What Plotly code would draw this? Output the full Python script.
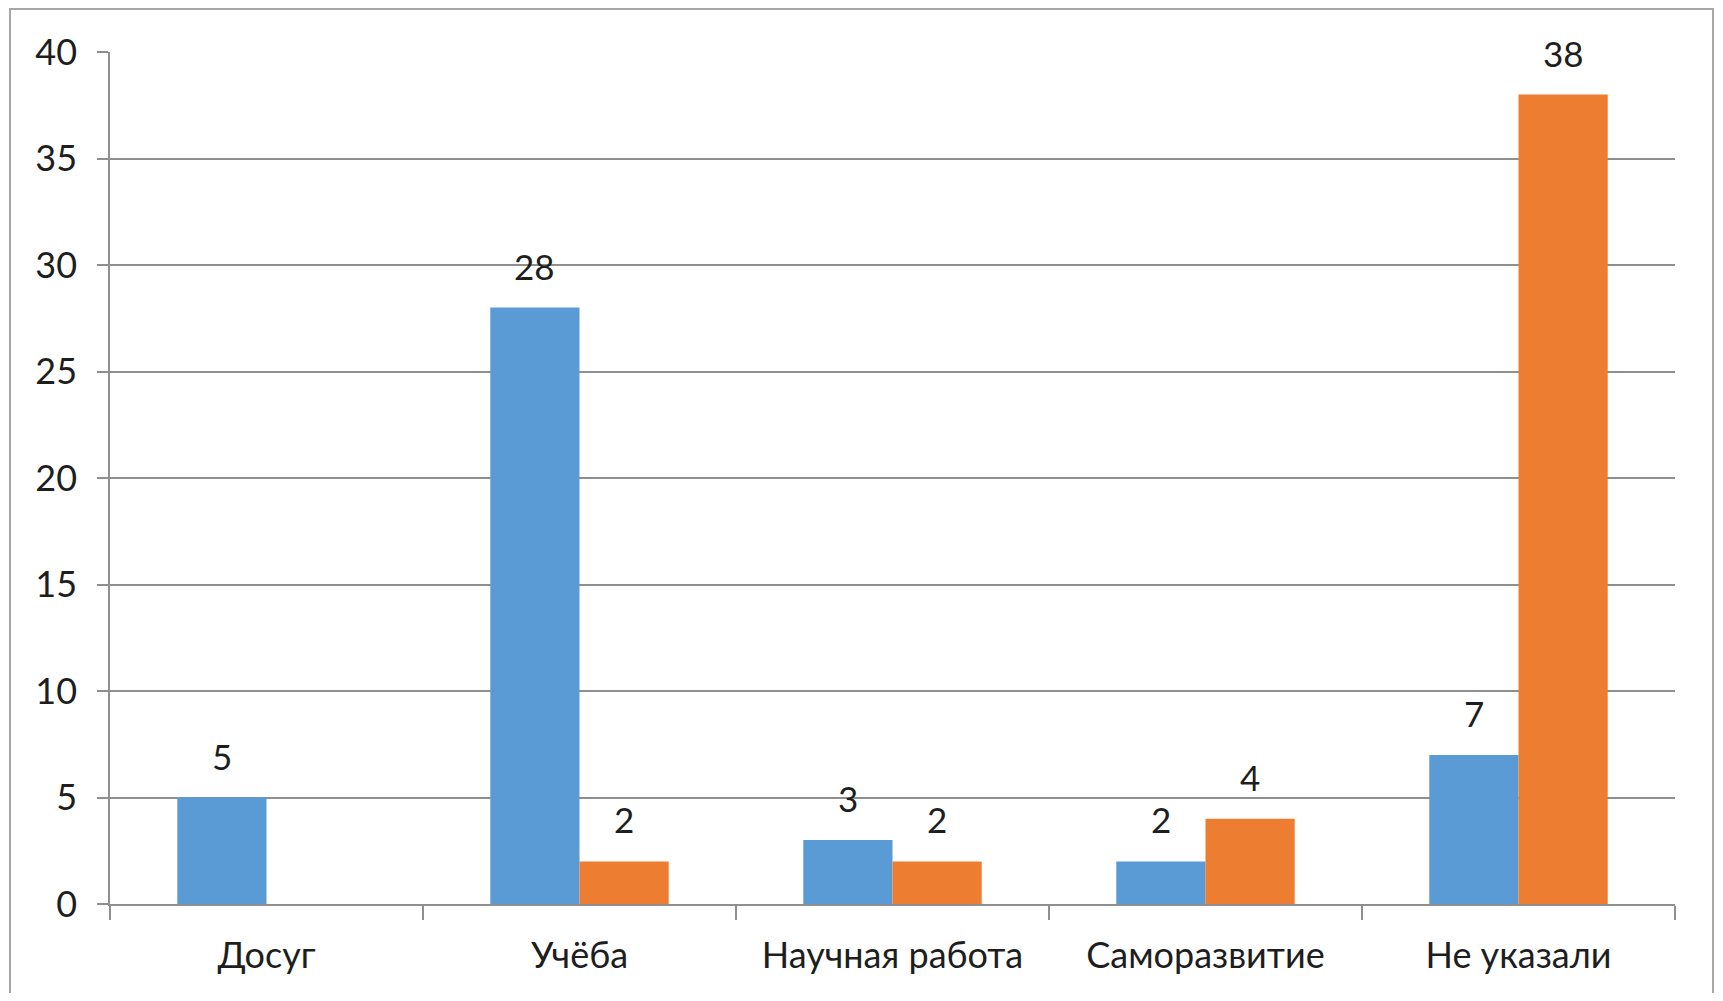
import plotly.graph_objects as go

categories = ["Досуг", "Учёба", "Научная работа", "Саморазвитие", "Не указали"]
series1 = [5, 28, 3, 2, 7]
series2 = [None, 2, 2, 4, 38]
y_ticks = [0, 5, 10, 15, 20, 25, 30, 35, 40]

# page body has an 8px margin; figure spans page px 8..1715 x 8..993
OFF = 8
W, H = 1707, 985
ML, MT = 110 - OFF, 52 - OFF
MR = (OFF + W) - 1675
MB = (OFF + H) - 904
PW, PH = W - ML - MR, H - MT - MB

BLUE = "#5B9BD5"
ORANGE = "#ED7D31"
GRID = "#8f8f8f"
FONT = "Lato"
TXT = "#1e1e1e"
FS = 36

fig = go.Figure()
fig.add_trace(go.Bar(x=categories, y=series1, marker=dict(color=BLUE, line=dict(width=0)), name="1"))
fig.add_trace(go.Bar(x=categories, y=series2, marker=dict(color=ORANGE, line=dict(width=0)), name="2"))

bar_px = PW / len(categories) * (1 - 0.43) / 2
annotations = []
for vals, shift in ((series1, -bar_px / 2), (series2, bar_px / 2)):
    for c, v in zip(categories, vals):
        if v is None:
            continue
        annotations.append(dict(x=c, y=v, xref="x", yref="y", text=str(v), showarrow=False,
                                xshift=shift, yshift=42, yanchor="middle",
                                font=dict(family=FONT, size=FS - 1, color=TXT)))

def px2paper_x(px):
    return (px - OFF - ML) / PW

def px2paper_y(py):
    return (OFF + H - MB - py) / PH

shapes = [dict(type="rect", xref="paper", yref="paper",
               x0=px2paper_x(10), x1=px2paper_x(1713), y0=px2paper_y(1015), y1=px2paper_y(9),
               line=dict(color="#a6a6a6", width=2), fillcolor="rgba(0,0,0,0)", layer="below")]

fig.update_layout(
    width=W, height=H,
    margin=dict(l=ML, r=MR, t=MT, b=MB),
    paper_bgcolor="white", plot_bgcolor="white",
    barmode="group", bargap=0.43, bargroupgap=0,
    showlegend=False,
    font=dict(family=FONT, size=FS, color=TXT),
    annotations=annotations,
    shapes=shapes,
    xaxis=dict(showgrid=False, showline=True, linecolor=GRID, linewidth=1.5,
               ticks="outside", ticklen=14, tickcolor=GRID, tickwidth=1.5,
               tickson="boundaries", tickfont=dict(family=FONT, size=FS, color=TXT),
               ticklabelstandoff=19),
    yaxis=dict(range=[0, 40], tickvals=y_ticks, showgrid=True, gridcolor=GRID, gridwidth=1.5,
               showline=True, linecolor=GRID, linewidth=1.5, zeroline=False,
               ticks="outside", ticklen=11, tickcolor=GRID, tickwidth=1.5,
               tickfont=dict(family=FONT, size=FS, color=TXT), ticklabelstandoff=13),
)

fig.write_html("out.html")
